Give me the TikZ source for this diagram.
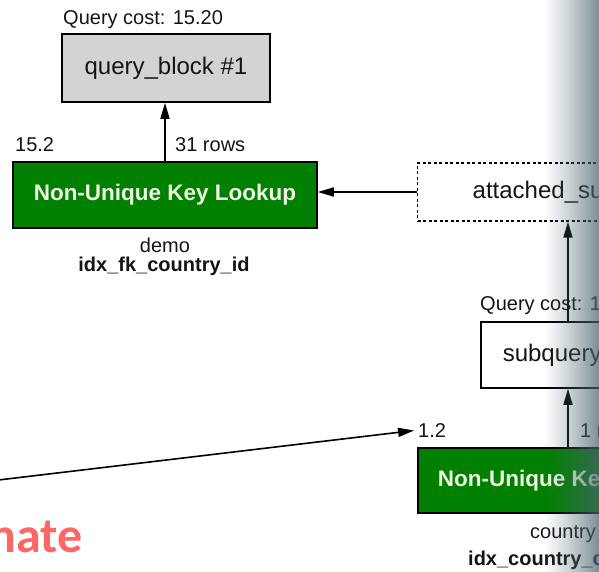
\documentclass[tikz,border=0pt]{standalone}
\usepackage{fontspec}
\setmainfont{Liberation Sans}
\newfontfamily\calib{Carlito}
\usetikzlibrary{arrows.meta}
\definecolor{planbox}{RGB}{211,211,211}
\definecolor{lookup}{RGB}{0,128,0}
\definecolor{lookuptext}{RGB}{240,246,228}
\definecolor{ink}{RGB}{20,20,20}
\definecolor{salmon}{RGB}{255,102,102}
\definecolor{edgeshade}{RGB}{75,98,112}
\tikzset{
  every node/.style={text=ink},
  box/.style={draw=black, line width=1.6pt, rectangle, inner sep=0pt,
              font=\fontsize{24}{28}\selectfont},
  grey box/.style={box, fill=planbox},
  green box/.style={box, fill=lookup, text=lookuptext,
              font=\bfseries\fontsize{22.5}{26}\selectfont},
  dash box/.style={box, dash pattern=on 3pt off 2.5pt, line width=1.4pt},
  lbl/.style={inner sep=0pt, font=\fontsize{20}{24}\selectfont},
  bold lbl/.style={lbl, font=\bfseries\fontsize{20}{24}\selectfont},
  arr/.style={draw=black, line width=1.6pt, -{Triangle[length=16pt,width=9pt]}},
}
\begin{document}
\begin{tikzpicture}[x=1pt,y=1pt]
\useasboundingbox (0,0) rectangle (599,-572);

% upper query block and its index lookup
\node[lbl, anchor=base west] (qc1) at (63,-25) {Query cost: 15.20};
\node[grey box, minimum width=208, minimum height=68] (qb) at (166,-68) {query\_block \#1};
\node[green box, minimum width=304, minimum height=66] (nk1) at (165,-195) {Non-Unique Key Lookup};
\node[lbl, anchor=base west] (c152) at (15,-152) {15.2};
\node[lbl, anchor=base west] (r31) at (175,-152) {31 rows};
\node[lbl, anchor=base] (tdemo) at (165,-252) {demo};
\node[bold lbl, anchor=base] (idx1) at (164,-271) {idx\_fk\_country\_id};

% attached subquery branch (boxes run on past the right margin)
\node[dash box, anchor=west, minimum height=58] (att) at (417,-192)
  {\hspace*{55pt}attached\_subqueries\hspace*{30pt}};
\node[lbl, anchor=base west] (qc2) at (480,-310) {Query cost: 1.20};
\node[box, anchor=west, minimum height=66] (sq) at (480,-355)
  {\hspace*{22pt}subquery \#2\hspace*{30pt}};
\node[green box, anchor=west, minimum height=65] (nk2) at (417,-480.5)
  {\hspace*{20pt}Non-Unique Key Lookup\hspace*{20pt}};
\node[lbl, anchor=base west] (c12) at (418,-437) {1.2};
\node[lbl, anchor=base west] (r1) at (580,-437) {1 row};
\node[lbl, anchor=base west] (tcountry) at (530,-538) {country};
\node[bold lbl, anchor=base west] (idx2) at (468,-565) {idx\_country\_code};

\coordinate (vx) at (568,0);
\coordinate (src) at (-10,-481);

% connectors
\draw[arr] (nk1.north) -- (nk1.north |- qb.south);
\draw[arr] (att.west) -- (att.west -| nk1.east);
\draw[arr] (sq.north -| vx) -- (att.south -| vx);
\draw[arr] (nk2.north -| vx) -- (sq.south -| vx);
\draw[arr, shorten >=4pt] (src) -- (c12.west);

% caption
\node[anchor=base west, inner sep=0pt, text=salmon,
      font=\calib\bfseries\fontsize{50}{58}\selectfont] (cap) at (-11,-552) {nate};

% darkening band along the right edge
\foreach \i in {0,...,55}{
  \pgfmathsetmacro{\op}{0.72*((\i+0.5)/56)^1.2}
  \fill[edgeshade, fill opacity=\op] (543+\i,0) rectangle (544+\i,-572);
}
\end{tikzpicture}
\end{document}
